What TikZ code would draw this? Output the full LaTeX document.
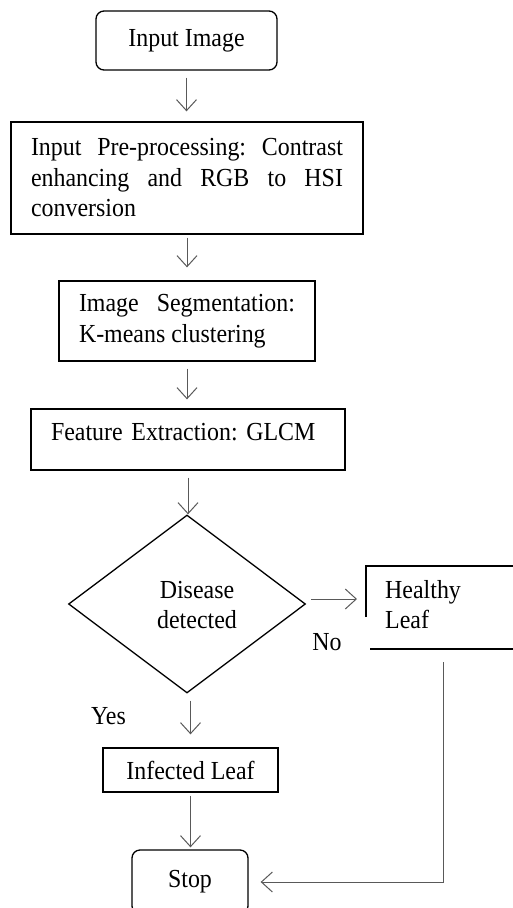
\documentclass[tikz,border=0pt]{standalone}
\usepackage{fontspec}
\setmainfont{Liberation Serif}[FakeStretch=0.92]
\usetikzlibrary{shapes.geometric,arrows.meta}
\hyphenpenalty=10000
\frenchspacing
\begin{document}
\frenchspacing
\begin{tikzpicture}[x=1pt,y=-1pt,
  every node/.style={font=\fontsize{26}{30.5}\selectfont, inner sep=0pt},
  box/.style={draw=black, line width=1.3pt, rectangle},
  rbox/.style={box, rounded corners=8pt},
  arr/.style={draw=black!65, line width=1pt, -{Straight Barb[length=11pt,width=20pt]}},
  edge/.style={draw=black, line width=1.3pt}
]
\useasboundingbox (0,0) rectangle (513,908);
\clip (0,0) rectangle (513,908);

\node[rbox, minimum width=181pt, minimum height=59pt] (in) at (186.5,40.5) {Input Image};
\node[box, minimum width=352pt, minimum height=112pt, text width=312pt, align=justify] (pre) at (187,178)
  {Input Pre-processing: Contrast enhancing and RGB to HSI conversion};
\node[box, minimum width=256pt, minimum height=80pt, text width=216pt, align=justify] (seg) at (187,321)
  {Image Segmentation: K-means clustering};
\node[box, minimum width=314pt, text width=274pt, align=left, text height=31pt, text depth=30pt] (feat) at (188,439.5)
  {Feature Extraction: GLCM};
\node[diamond, draw=black, line width=1.3pt, minimum width=237pt, minimum height=178pt] (dd) at (187,604) {};
\node[align=center] (ddt) at (197,605) {Disease\\detected};

% Healthy Leaf (partially drawn box, cut by the right border)
\coordinate (hlt) at (366,566);
\coordinate (hll) at (366,617);
\coordinate (hlin) at (366,599);
\coordinate (hltr) at (530,566);
\coordinate (hlbl) at (370,649);
\coordinate (hlbr) at (530,649);
\coordinate (hlb) at (443,649);
\draw[edge] (hll) -- (hlt) -- (hltr);
\draw[edge] (hlbl) -- (hlbr);
\node[align=left, anchor=north west] (hl) at (385,580) {Healthy\\Leaf};

\node[anchor=base] (no) at (327,650) {No};
\node[anchor=base] (yes) at (108.5,724) {Yes};

\node[box, minimum width=175pt, minimum height=44pt] (inf) at (190.5,770) {Infected Leaf};
\node[rbox, minimum width=116pt, minimum height=64pt] (stop) at (190,882) {Stop};

\draw[arr, shorten <=7pt, shorten >=10pt] (in.south) -- (in.south |- pre.north);
\draw[arr, shorten <=3pt, shorten >=13pt] (pre.south) -- (pre.south |- seg.north);
\draw[arr, shorten <=7pt, shorten >=9pt] (seg.south) -- (seg.south |- feat.north);
\draw[arr, shorten <=7pt] (feat.south) -- (feat.south |- dd.north);
\draw[arr, shorten <=7pt, shorten >=13pt] (inf.north |- dd.south) -- (inf.north);
\draw[arr, shorten <=3pt, shorten >=2pt] (inf.south) -- (inf.south |- stop.north);
\draw[arr, shorten <=5pt, shorten >=9pt] (hlin -| dd.east) -- (hlin);
\draw[arr, shorten <=13pt, shorten >=12pt] (hlb) |- (stop.east);
\end{tikzpicture}
\end{document}
